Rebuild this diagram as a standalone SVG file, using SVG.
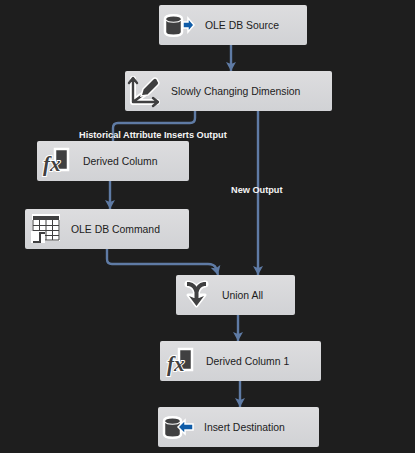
<svg xmlns="http://www.w3.org/2000/svg" width="415" height="453" viewBox="0 0 415 453">
<defs>
<style>
.box{fill:url(#g)}
.lbl{font:10.4px "Liberation Sans",Arial,sans-serif;fill:#1c1c1c}
.cl{font:bold 9.2px "Liberation Sans",Arial,sans-serif;fill:#f4f4f4}
.c{fill:none;stroke:#5f7ba5;stroke-width:2.4}
.halo{fill:none;stroke:#fff;stroke-width:6;stroke-linejoin:round;stroke-linecap:round}
.ic{fill:none;stroke:#404041;stroke-width:2.4;stroke-linejoin:round;stroke-linecap:round}
.fx{font:italic bold 21px "Liberation Serif",serif;fill:#404041;stroke:#fff;stroke-width:2;paint-order:stroke}
</style>
<linearGradient id="g" x1="0" y1="0" x2="0" y2="1"><stop offset="0" stop-color="#dddddf"/><stop offset="1" stop-color="#d1d2d5"/></linearGradient>
<marker id="a" markerUnits="userSpaceOnUse" markerWidth="10" markerHeight="12" refX="9" refY="6" orient="auto"><path d="M0 1L9 6L0 11L2 6Z" fill="#5f7ba5"/></marker>
<symbol id="cyl" overflow="visible"><path d="M0 4C0 -1 17 -1 17 4V17C17 22 0 22 0 17Z" fill="#404041" stroke="#fff" stroke-width="2.500"/><path d="M1 5C3 8 14 8 16 5" fill="none" stroke="#fff" stroke-width="1.200"/></symbol>
<symbol id="fxi" overflow="visible"><rect x="12" y="0" width="13" height="21" fill="#404041" stroke="#fff" stroke-width="2.500"/><text class="fx" x="0" y="22">fx</text></symbol>
</defs>
<rect width="415" height="453" fill="#1e1e1e"/>
<g id="connectors">
<path class="c" marker-end="url(#a)" d="M231 45V71"/>
<path class="c" d="M195 111V118Q195 123 190 123H118Q113 123 113 128V141"/>
<path class="c" marker-end="url(#a)" d="M110 181V209"/>
<path class="c" marker-end="url(#a)" d="M107 249V259Q107 264 112 264H208Q214 264 216 268L218 275"/>
<path class="c" marker-end="url(#a)" d="M258 111V275"/>
<path class="c" marker-end="url(#a)" d="M238 315V341"/>
<path class="c" marker-end="url(#a)" d="M240 381V407"/>
<text class="cl" x="79" y="138">Historical Attribute Inserts Output</text>
<text class="cl" x="231" y="193">New Output</text>
</g>
<g id="ole-db-source">
<rect class="box" x="159" y="5" width="148" height="40" rx="2"/>
<use href="#cyl" x="165" y="15"/>
<path d="M183 22H188V18L194 25L188 32V28H183Z" fill="#0f5ca8" stroke="#fff" stroke-width="1.500"/>
<text class="lbl" x="205" y="29">OLE DB Source</text>
</g>
<g id="slowly-changing-dimension">
<rect class="box" x="125" y="71" width="207" height="40" rx="2"/>
<path class="halo" d="M133 79V102H157M133 102L144 94"/>
<path class="ic" d="M133 79V102H157M129 83L133 78L137 83M153 98L158 102L153 106M133 102L144 94"/>
<path d="M143 89L153 79Q155 77 157 79L158 81Q160 83 158 85L148 95L141 96Z" fill="#404041" stroke="#fff" stroke-width="1.500"/>
<text class="lbl" x="171" y="95">Slowly Changing Dimension</text>
</g>
<g id="derived-column">
<rect class="box" x="37" y="141" width="152" height="40" rx="2"/>
<use href="#fxi" x="43" y="149"/>
<text class="lbl" x="83" y="165">Derived Column</text>
</g>
<g id="ole-db-command">
<rect class="box" x="25" y="209" width="164" height="40" rx="2"/>
<rect x="32" y="214" width="28" height="27" fill="#fff"/>
<rect x="33" y="216" width="26" height="4" fill="#404041"/>
<path d="M33 220V240H59V220M33 225.500H59M33 230.500H59M33 235.500H59M39.500 220V240M46 220V240M52.500 220V240" stroke="#404041" stroke-width="1" fill="none"/>
<path d="M31 231H45V243H31Z" fill="#fff"/>
<path d="M33 242H40V233H45" fill="none" stroke="#404041" stroke-width="2"/>
<text class="lbl" x="71" y="233">OLE DB Command</text>
</g>
<g id="union-all">
<rect class="box" x="176" y="275" width="119" height="40" rx="2"/>
<path d="M188 284Q195 285 196.500 292V302M205 284Q198 285 196.500 292" fill="none" stroke="#fff" stroke-width="7" stroke-linecap="round"/>
<path d="M188 295L196.500 306L205 295Z" fill="#fff" stroke="#fff" stroke-width="3" stroke-linejoin="round"/>
<path d="M187 284H189Q195 285 196.500 292V302M206 284H204Q198 285 196.500 292" fill="none" stroke="#404041" stroke-width="4"/>
<path d="M189 296L196.500 306L204 296L199 298H194Z" fill="#404041"/>
<text class="lbl" x="222" y="299">Union All</text>
</g>
<g id="derived-column-1">
<rect class="box" x="160" y="341" width="161" height="40" rx="2"/>
<use href="#fxi" x="167" y="349"/>
<text class="lbl" x="206" y="365">Derived Column 1</text>
</g>
<g id="insert-destination">
<rect class="box" x="158" y="407" width="161" height="40" rx="2"/>
<use href="#cyl" x="164" y="417"/>
<path d="M193 424H185V420L178 427L185 434V430H193Z" fill="#0f5ca8" stroke="#fff" stroke-width="1.500"/>
<text class="lbl" x="204" y="431">Insert Destination</text>
</g>
</svg>
